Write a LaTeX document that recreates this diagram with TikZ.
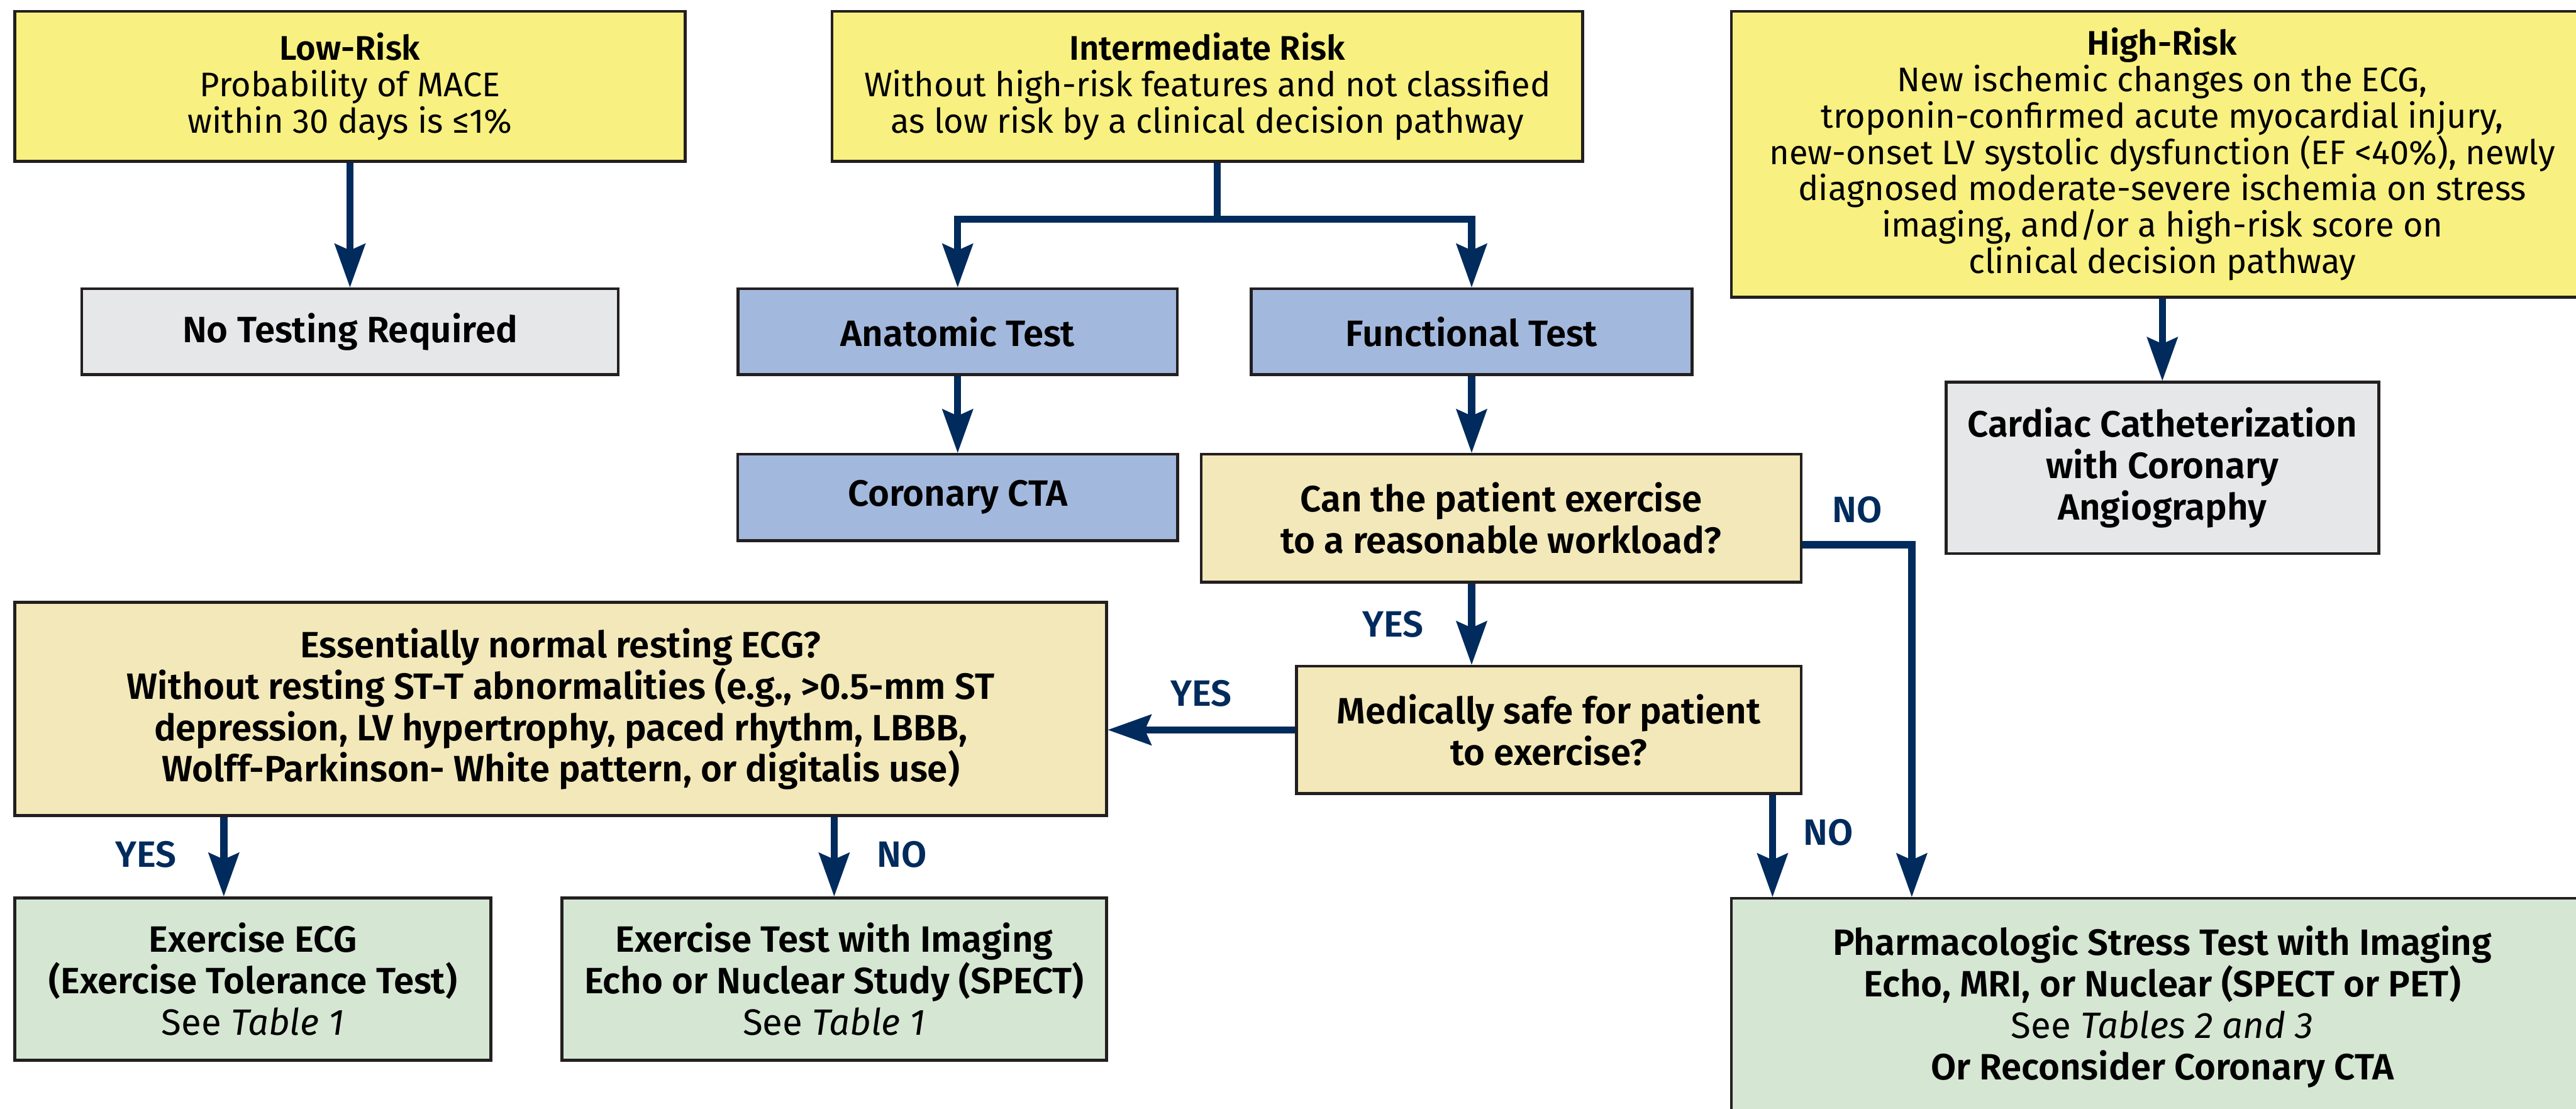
\documentclass[tikz,border=0pt]{standalone}
\usepackage{fontspec}
\setmainfont{Fira Sans}[BoldFont={Fira Sans SemiBold}]
\usetikzlibrary{arrows.meta}
\definecolor{riskyellow}{RGB}{248,240,128}
\definecolor{nogray}{RGB}{230,231,232}
\definecolor{testblue}{RGB}{163,184,221}
\definecolor{asktan}{RGB}{243,232,185}
\definecolor{resultgreen}{RGB}{213,231,211}
\definecolor{navy}{RGB}{0,43,92}
\definecolor{boxline}{RGB}{35,31,32}
\tikzstyle{basebox}=[draw=boxline, line width=1.4pt, align=center, inner sep=0pt]
\tikzstyle{riskbox}=[basebox, fill=riskyellow, font=\fontsize{16.3}{17.4}\selectfont]
\tikzstyle{stepbox}=[basebox, font=\bfseries\fontsize{17.5}{19.8}\selectfont]
\tikzstyle{flowline}=[draw=navy, line width=3.4pt]
\tikzstyle{flow}=[flowline, -{Stealth[length=0.74cm, width=0.53cm, inset=0.12cm, line width=0pt]}]
\tikzstyle{answer}=[text=navy, inner sep=0pt, font=\bfseries\fontsize{17.5}{19.8}\selectfont]

\begin{document}
\begin{tikzpicture}[x=1cm, y=-1cm]
\useasboundingbox (0,0) rectangle (43.28,18.62);

    % risk groups
    \foreach \pos/ \name / \w / \h / \label in {
        {(5.88,1.45)/low/11.27/2.52/{\textbf{Low-Risk}\\Probability of MACE\\within 30 days is ≤1\%}},
        {(20.285,1.45)/inter/12.61/2.52/{\textbf{Intermediate Risk}\\Without high-risk features and not classified\\as low risk by a clinical decision pathway}},
        {(36.33,2.59)/high/14.48/4.80/{\textbf{High-Risk}\\New ischemic changes on the ECG,\\troponin-confirmed acute myocardial injury,\\new-onset LV systolic dysfunction (EF <40\%), newly\\diagnosed moderate-severe ischemia on stress\\imaging, and/or a high-risk score on\\clinical decision pathway}}}
        \node[riskbox, minimum width=\w cm, minimum height=\h cm] (\name) at \pos {\label};

    % grey end points
    \foreach \pos/ \name / \w / \h / \label in {
        {(5.88,5.57)/notest/9.01/1.44/{No Testing Required}},
        {(36.33,7.86)/cath/7.27/2.88/{Cardiac Catheterization\\with Coronary\\Angiography}}}
        \node[stepbox, fill=nogray, minimum width=\w cm, minimum height=\h cm] (\name) at \pos {\label};

    % test kinds
    \foreach \pos/ \name / \w / \h / \label in {
        {(16.09,5.57)/anat/7.38/1.44/{Anatomic Test}},
        {(24.725,5.57)/func/7.41/1.44/{Functional Test}},
        {(16.09,8.355)/cta/7.39/1.45/{Coronary CTA}}}
        \node[stepbox, fill=testblue, minimum width=\w cm, minimum height=\h cm] (\name) at \pos {\label};

    % questions
    \foreach \pos/ \name / \w / \h / \label in {
        {(25.22,8.705)/canex/10.08/2.15/{Can the patient exercise\\to a reasonable workload?}},
        {(26.02,12.26)/safe/8.48/2.14/{Medically safe for patient\\to exercise?}},
        {(9.42,11.91)/ecgq/18.34/3.58/{Essentially normal resting ECG?\\Without resting ST-T abnormalities (e.g., >0.5-mm ST\\depression, LV hypertrophy, paced rhythm, LBBB,\\Wolff-Parkinson- White pattern, or digitalis use)}}}
        \node[stepbox, fill=asktan, minimum width=\w cm, minimum height=\h cm] (\name) at \pos {\label};

    % stress tests
    \foreach \pos/ \name / \w / \h / \label in {
        {(4.25,16.445)/exECG/8.00/2.73/{Exercise ECG\\(Exercise Tolerance Test)\\{\mdseries See \textit{Table 1}}}},
        {(14.015,16.445)/eximg/9.15/2.73/{Exercise Test with Imaging\\Echo or Nuclear Study (SPECT)\\{\mdseries See \textit{Table 1}}}},
        {(36.33,16.91)/pharm/14.48/3.64/{Pharmacologic Stress Test with Imaging\\Echo, MRI, or Nuclear (SPECT or PET)\\{\mdseries See \textit{Tables 2 and 3}}\\Or Reconsider Coronary CTA}}}
        \node[stepbox, fill=resultgreen, minimum width=\w cm, minimum height=\h cm] (\name) at \pos {\label};

    % straight drops
    \foreach \source/ \dest in {low/notest, high/cath, anat/cta}
        \draw[flow] (\source) -- (\dest);

    % intermediate risk splits
    \coordinate (split) at (20.45,3.68);
    \draw[flowline] (inter.south -| split) -- (split);
    \foreach \dest in {anat, func}
        \draw[flow] (split) -| (\dest);

    \draw[flow] (func) -- (func.south |- canex.north);
    \draw[flow] (func.south |- canex.south) -- node[answer, left=0.75cm] {YES} (func.south |- safe.north);

    \coordinate (noturn) at (32.12,9.15);
    \draw[flow] (canex.east |- noturn) -- node[answer, above=0.3cm] {NO} (noturn) -- (noturn |- pharm.north);

    \coordinate (nodrop) at (29.78,13.33);
    \draw[flow] (nodrop |- safe.south) -- node[answer, right=0.46cm, pos=0.37] {NO} (nodrop |- pharm.north);

    \draw[flow] (safe.west) -- node[answer, above=0.33cm] {YES} (safe.west -| ecgq.east);

    \coordinate (yesdrop) at (3.76,13.7);
    \draw[flow] (yesdrop |- ecgq.south) -- node[answer, left=0.74cm, pos=0.47] {YES} (yesdrop |- exECG.north);
    \draw[flow] (ecgq.south -| eximg.north) -- node[answer, right=0.66cm, pos=0.47] {NO} (eximg.north);
\end{tikzpicture}
\end{document}
